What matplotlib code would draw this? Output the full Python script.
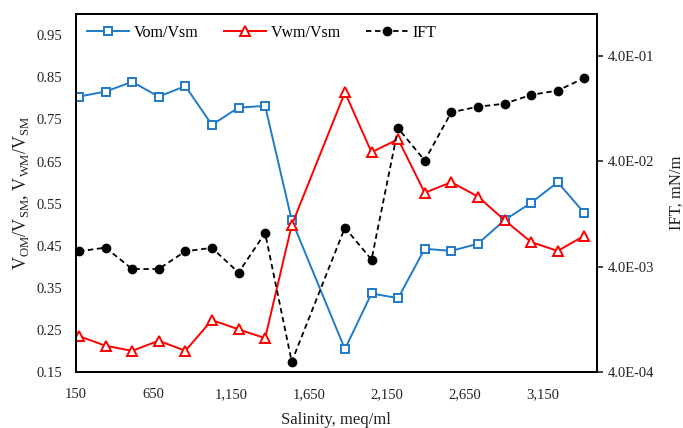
import matplotlib
matplotlib.use('Agg')
import matplotlib.pyplot as plt
from matplotlib.ticker import FixedLocator, FuncFormatter

plt.rcParams['font.family'] = ['Liberation Serif', 'DejaVu Serif']
plt.rcParams['mathtext.fontset'] = 'custom'
plt.rcParams['mathtext.rm'] = 'Liberation Serif'

# salinity (meq/ml), point at 1710 is missing in the source
salinity = [171, 342, 513, 684, 855, 1026, 1197, 1368, 1539,
            1881, 2052, 2223, 2394, 2565, 2736, 2907, 3078, 3249, 3420]
vom_vsm = [0.804, 0.816, 0.839, 0.804, 0.829, 0.737, 0.778, 0.782, 0.511,
           0.205, 0.337, 0.326, 0.443, 0.438, 0.455, 0.511, 0.552, 0.601, 0.528]
vwm_vsm = [0.236, 0.213, 0.201, 0.225, 0.201, 0.274, 0.252, 0.231, 0.499,
           0.814, 0.672, 0.703, 0.576, 0.601, 0.567, 0.511, 0.459, 0.438, 0.474]
ift = [5.62e-3, 6.09e-3, 3.82e-3, 3.82e-3, 5.62e-3, 6.06e-3, 3.53e-3, 8.37e-3, 5.04e-4,
       9.42e-3, 4.69e-3, 8.24e-2, 4.08e-2, 0.117, 0.132, 0.141, 0.171, 0.188, 0.247]

x_ticks = [150, 650, 1150, 1650, 2150, 2650, 3150]
y_ticks = [0.15, 0.25, 0.35, 0.45, 0.55, 0.65, 0.75, 0.85, 0.95]
ift_ticks = [4e-4, 4e-3, 4e-2, 4e-1]

blue = '#1f7ac8'
red = '#ff0000'

fig = plt.figure(figsize=(6.83, 4.28), dpi=100)
ax = fig.add_axes([0.1108, 0.1301, 0.8737 - 0.1108, 0.9673 - 0.1301])

l1, = ax.plot(salinity, vom_vsm, color=blue, lw=1.4, marker='s', ms=6,
              mfc='white', mec=blue, mew=1.4, label='Vom/Vsm')
l2, = ax.plot(salinity, vwm_vsm, color=red, lw=1.4, marker='^', ms=7,
              mfc='white', mec=red, mew=1.4, label='Vwm/Vsm')

ax.set_xlim(150, 3500)
ax.set_ylim(0.15, 1.0)
ax.set_xticks(x_ticks)
ax.set_xticklabels([f'{v:,}' for v in x_ticks])
ax.set_yticks(y_ticks)
ax.set_yticklabels([f'{v:.2f}' for v in y_ticks])
ax.tick_params(axis='both', length=0, labelsize=10.5, colors='#222222')
ax.tick_params(axis='x', pad=11.5)
ax.tick_params(axis='y', pad=9.5)
ax.set_xlabel('Salinity, meq/ml', fontsize=12, labelpad=8, color='#222222')
ax.set_ylabel(r'V$_{\mathrm{OM}}$/V$_{\mathrm{SM}}$, V$_{\mathrm{WM}}$/V$_{\mathrm{SM}}$',
              fontsize=13, labelpad=4, color='#222222')

ax2 = ax.twinx()
l3, = ax2.plot(salinity, ift, color='black', lw=1.3, ls='--', dashes=(3, 2),
               marker='o', ms=6, label='IFT')
ax2.set_yscale('log')
ax2.set_ylim(4e-4, 1.0)
ax2.yaxis.set_major_locator(FixedLocator(ift_ticks))
ax2.yaxis.set_minor_locator(FixedLocator([]))
ax2.yaxis.set_major_formatter(FuncFormatter(lambda v, p: f'{v:.1E}'))
ax2.tick_params(axis='y', length=4, width=1.2, direction='out', pad=4,
                labelsize=10.5, colors='#222222')
ax2.set_ylabel('IFT, mN/m', fontsize=12, labelpad=10, color='#222222')

for a in (ax, ax2):
    for s in a.spines.values():
        s.set_linewidth(1.4)
        s.set_color('black')

ax2.legend(handles=[l1, l2, l3], loc='upper left', ncol=3, frameon=False,
           fontsize=11.5, handlelength=2.6, columnspacing=1.6,
           bbox_to_anchor=(-0.005, 1.01), handletextpad=0.3)

fig.savefig('out.png', dpi=100)
